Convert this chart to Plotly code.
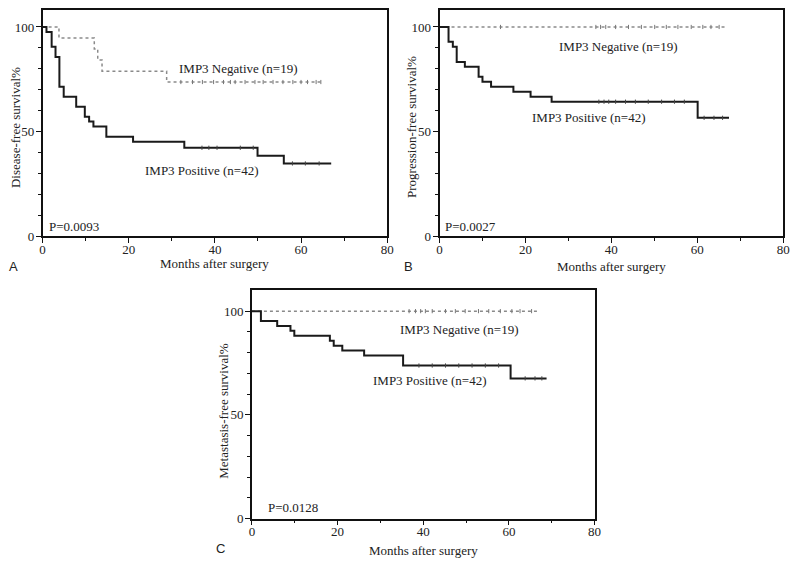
import plotly.graph_objects as go

# ---------------- data ----------------
A_pos_t = [0, 0.9, 2.1, 3.0, 3.9, 4.9, 7.8, 9.8, 10.8, 11.8, 14.8, 21.0, 32.9, 49.9, 56.0, 67.0]
A_pos_s = [100, 97.6, 90.5, 85.7, 71.4, 66.7, 61.9, 57.1, 54.8, 52.4, 47.6, 45.2, 42.3, 38.5, 34.8, 34.8]
A_pos_cens = [37, 38.6, 40.5, 45.9, 48.9, 58, 61, 64.2]
A_neg_t = [0, 3.8, 12.0, 12.8, 13.8, 28.8, 65.1]
A_neg_s = [100, 94.7, 89.5, 84.2, 78.9, 73.7, 73.7]
A_neg_cens = [32.1, 34.8, 37.1, 39.7, 42, 43.6, 44.7, 47, 49.3, 51.2, 53.5, 55.8, 58.1, 60, 61.5, 63.5, 64.6]

B_pos_t = [0, 2.1, 3.1, 4.0, 5.9, 9.1, 10.0, 12.0, 17.2, 21.2, 26.1, 60.1, 67.4]
B_pos_s = [100, 92.9, 90.5, 83.3, 81.0, 76.2, 73.8, 71.4, 69.0, 66.7, 64.3, 56.6, 56.6]
B_pos_cens = [37.1, 38.3, 39.4, 41, 43.3, 45.6, 48.6, 51.7, 54.7, 57, 61.6, 63.9, 65.9]
B_neg_t = [0, 66.6]
B_neg_s = [100, 100]
B_neg_cens = [14.2, 36.4, 37.5, 38.7, 41, 44, 47, 50.1, 52.8, 55.5, 58.6, 61.3, 63.2, 65.1]

C_pos_t = [0, 2.1, 5.9, 9.0, 9.9, 18.2, 19.1, 21.1, 26.2, 35.3, 60.4, 68.8]
C_pos_s = [100, 95.2, 92.9, 90.5, 88.1, 85.7, 83.3, 81.0, 78.6, 73.8, 67.6, 67.6]
C_pos_cens = [39, 42.1, 45.2, 48.3, 51.4, 54.5, 57.6, 63.8, 66.1, 67.7]
C_neg_t = [0, 66.9]
C_neg_s = [100, 100]
C_neg_cens = [36.7, 38.2, 39.4, 40.5, 42.1, 45.2, 47.5, 49.8, 52.9, 55.3, 58, 60.7, 62.6, 65.3]

y_titles = ["Disease-free survival%", "Progression-free survival%", "Metastasis-free survival%"]
p_values = ["P=0.0093", "P=0.0027", "P=0.0128"]
panel_labels = ["A", "B", "C"]
neg_label = "IMP3 Negative (n=19)"
pos_label = "IMP3 Positive (n=42)"
x_title = "Months after surgery"
x_ticks = [0, 20, 40, 60, 80]
y_ticks = [0, 50, 100]

SERIF = "Liberation Serif, Times New Roman, Times, DejaVu Serif, serif"
SANS = "Liberation Sans, Arial, DejaVu Sans, sans-serif"
W, H = 800, 567
OFF = 8  # page body margin compensation
FW, FH = W - OFF, H - OFF


def surv_at(ts, ss, t):
    v = ss[0]
    for ti, si in zip(ts, ss):
        if ti <= t:
            v = si
    return v


def px(x):
    return min(max((x - OFF) / FW, 0), 1)


def py(y):
    return min(max(1 - (y - OFF) / FH, 0), 1)


fig = go.Figure()

panels = [
    dict(pos=(A_pos_t, A_pos_s, A_pos_cens), neg=(A_neg_t, A_neg_s, A_neg_cens),
         px=(40, 389), py=(5, 239), neg_xy=(45.4, 80.2), pos_xy=(37.1, 31.5), p_xy=(1.1, 4.6),
         ytitle_x=12, xtitle_y=267, lab=(11, 270)),
    dict(pos=(B_pos_t, B_pos_s, B_pos_cens), neg=(B_neg_t, B_neg_s, B_neg_cens),
         px=(442, 790), py=(5, 239), neg_xy=(41.7, 90.7), pos_xy=(34.8, 56.9), p_xy=(0.7, 4.6),
         ytitle_x=413, xtitle_y=270, lab=(411, 270)),
    dict(pos=(C_pos_t, C_pos_s, C_pos_cens), neg=(C_neg_t, C_neg_s, C_neg_cens),
         px=(252, 599), py=(294, 526), neg_xy=(48.4, 91.3), pos_xy=(41.5, 66.8), p_xy=(3.4, 5.2),
         ytitle_x=223, xtitle_y=558, lab=(220, 556)),
]

annotations = []
for i, p in enumerate(panels):
    n = "" if i == 0 else str(i + 1)
    xa, ya = "x" + n, "y" + n
    # negative (dotted)
    t, s, c = p["neg"]
    fig.add_trace(go.Scatter(x=t, y=s, mode="lines", line=dict(shape="hv", color="#8a8a8a", width=1.5, dash="dot"),
                             xaxis=xa, yaxis=ya, showlegend=False, hoverinfo="skip"))
    fig.add_trace(go.Scatter(x=c, y=[surv_at(t, s, ci) for ci in c], mode="markers",
                             marker=dict(symbol="line-ns", size=3, line=dict(width=1, color="#777")),
                             xaxis=xa, yaxis=ya, showlegend=False, hoverinfo="skip"))
    # positive (solid)
    t, s, c = p["pos"]
    fig.add_trace(go.Scatter(x=t, y=s, mode="lines", line=dict(shape="hv", color="#1a1a1a", width=2),
                             xaxis=xa, yaxis=ya, showlegend=False, hoverinfo="skip"))
    fig.add_trace(go.Scatter(x=c, y=[surv_at(t, s, ci) for ci in c], mode="markers",
                             marker=dict(symbol="line-ns", size=3, line=dict(width=1, color="#444")),
                             xaxis=xa, yaxis=ya, showlegend=False, hoverinfo="skip"))

    x0, x1 = p["px"]
    y0, y1 = p["py"]
    y0c = max(y0, OFF + 1)
    ytop = 110 * (y1 - y0c) / (y1 - y0)
    axcommon = dict(showline=True, linecolor="#111", linewidth=1.6, mirror=True, ticks="outside",
                    ticklen=5, tickwidth=1.3, tickcolor="#111", showgrid=False, zeroline=False,
                    tickfont=dict(family=SERIF, size=13, color="#222"))
    fig.update_layout(**{
        "xaxis" + n: dict(domain=[px(x0), px(x1)], range=[0, 80], tickvals=x_ticks, anchor=ya,
                          ticklabelstandoff=-5,
                          minor=dict(tickvals=[10, 30, 50, 70], ticks="outside", ticklen=3, tickwidth=1.2,
                                     tickcolor="#111"),
                          **axcommon),
        "yaxis" + n: dict(domain=[py(y1), py(y0c)], range=[0, ytop], tickvals=y_ticks, anchor=xa,
                          ticklabelstandoff=-1,
                          minor=dict(tickvals=[10, 20, 30, 40, 60, 70, 80, 90], ticks="outside", ticklen=3,
                                     tickwidth=1.2, tickcolor="#111"),
                          **axcommon),
    })
    tf = dict(family=SERIF, size=13, color="#222")
    cm = dict(showarrow=False, xanchor="center", yanchor="middle")
    annotations += [
        dict(x=p["neg_xy"][0], y=p["neg_xy"][1], xref=xa, yref=ya, text=neg_label, font=tf, **cm),
        dict(x=p["pos_xy"][0], y=p["pos_xy"][1], xref=xa, yref=ya, text=pos_label, font=tf, **cm),
        dict(x=p["p_xy"][0], y=p["p_xy"][1], xref=xa, yref=ya, text=p_values[i], font=tf,
             showarrow=False, xanchor="left", yanchor="middle"),
        dict(x=px(p["ytitle_x"]), y=py((y0 + y1) / 2 + 6), xref="paper", yref="paper", text=y_titles[i],
             textangle=-90, font=tf, **cm),
        dict(x=px((x0 + x1) / 2), y=py(p["xtitle_y"]), xref="paper", yref="paper", text=x_title,
             font=tf, **cm),
        dict(x=px(p["lab"][0]), y=py(p["lab"][1]), xref="paper", yref="paper", text=panel_labels[i],
             font=dict(family=SANS, size=13, color="#222"), **cm),
    ]

fig.update_layout(width=FW, height=FH, margin=dict(l=0, r=0, t=0, b=0), paper_bgcolor="white",
                  plot_bgcolor="white", annotations=annotations)

fig.write_html("out.html")
